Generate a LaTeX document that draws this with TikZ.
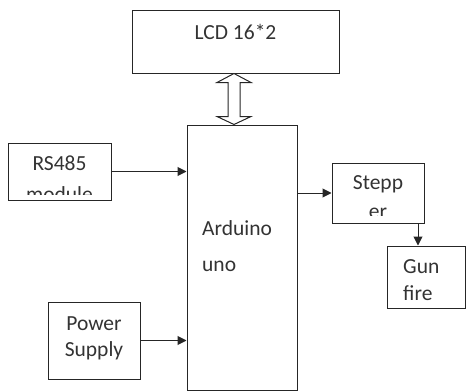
\documentclass[tikz,border=0pt]{standalone}
\usepackage{fontspec}
\setmainfont{Carlito}
\usetikzlibrary{arrows.meta,calc}
\begin{document}
\begin{tikzpicture}[x=1pt,y=-1pt,
  box/.style={draw=black!85,line width=1pt,inner sep=0pt},
  lbl/.style={inner sep=0pt,font=\fontsize{21.5}{24}\selectfont,text=black!80},
  conn/.style={draw=black!85,line width=1pt,-{Triangle[length=9pt,width=9pt]}}]
\useasboundingbox (0,0) rectangle (467,391);
% boxes
\node[box,minimum width=207pt,minimum height=63pt] (lcd) at (235.5,41.5) {};
\node[box,minimum width=110pt,minimum height=265pt] (main) at (242,257.5) {};
\node[box,minimum width=103pt,minimum height=57pt] (rs) at (59.5,171.5) {};
\node[box,minimum width=92pt,minimum height=77pt] (ps) at (94,340.5) {};
\node[box,minimum width=92pt,minimum height=60pt] (st) at (378,193) {};
\node[box,minimum width=78pt,minimum height=62pt] (gf) at (426,277) {};
% texts
\node[lbl,anchor=base] (tlcd) at (235.5,39) {LCD 16*2};
\node[lbl,anchor=base west] (tard1) at (202,235) {Arduino};
\node[lbl,anchor=base west] (tard2) at (202,271) {uno};
\node[lbl,anchor=base] (trs1) at (59.5,170) {RS485};
\begin{scope}
\clip (10,150) rectangle (109,194);
\node[lbl,anchor=base] (trs2) at (59.5,201) {module};
\end{scope}
\node[lbl,anchor=base] (tps1) at (94,330) {Power};
\node[lbl,anchor=base] (tps2) at (94,356) {Supply};
\node[lbl,anchor=base] (tst1) at (378,189) {Stepp};
\begin{scope}
\clip (334,195) rectangle (422,215);
\node[lbl,anchor=base] (tst2) at (378,218.5) {er};
\end{scope}
\node[lbl,anchor=base west] (tgf1) at (403,273) {Gun};
\node[lbl,anchor=base west] (tgf2) at (403,300) {fire};
% connectors
\draw[conn] (rs.east) -- (rs.east -| main.west);
\draw[conn] (ps.east) -- (ps.east -| main.west);
\draw[conn] (main.east |- st.west) -- (st.west);
\coordinate (sa) at ($(st.south)+(40,0)$);
\draw[conn] (sa) -- (sa |- gf.north);
% double hollow arrow
\coordinate (dt) at ($(lcd.south)+(-1.5,0)$);
\coordinate (db) at (dt |- main.north);
\draw[draw=black!85,line width=1pt,fill=white,line join=miter]
  (dt) -- ++(17,9) -- ++(-11,0) -- ($(db)+(6,-8)$) -- ++(11,0) -- (db)
  -- ++(-17,-8) -- ++(11,0) -- ($(dt)+(-6,9)$) -- ++(-11,0) -- cycle;
\end{tikzpicture}
\end{document}
